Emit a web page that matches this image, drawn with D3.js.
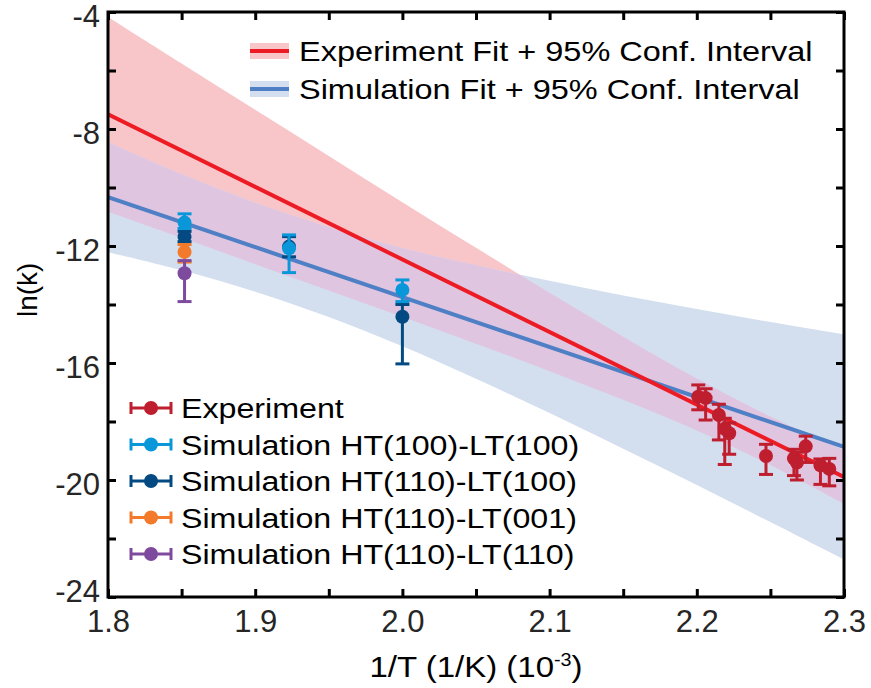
<!DOCTYPE html>
<html>
<head>
<meta charset="utf-8">
<script src="https://cdn.jsdelivr.net/npm/d3@7"></script>
<style>
  body { margin: 0; background: #fff; }
  text { font-family: "Liberation Sans", Arial, sans-serif; }
</style>
</head>
<body>
<div id="chart"></div>
<script>
// fit lines (ln k at the two ends of the x range)
const fitX = [1.8, 2.3];
const expFit = [-7.5, -19.9];
const simFit = [-10.33, -18.87];

// 95% confidence bands
const bandX = [1.80, 1.85, 1.90, 1.95, 2.00, 2.05, 2.10, 2.15, 2.20, 2.25, 2.30];
const expBandHi = [-4.17, -5.76, -7.34, -8.92, -10.50, -12.06, -13.60, -15.10, -16.53, -17.83, -18.98];
const expBandLo = [-10.83, -11.72, -12.62, -13.52, -14.42, -15.34, -16.28, -17.26, -18.31, -19.49, -20.82];
const simBandHi = [-8.45, -9.54, -10.52, -11.35, -12.07, -12.66, -13.19, -13.69, -14.15, -14.60, -15.02];
const simBandLo = [-12.21, -12.83, -13.56, -14.43, -15.43, -16.54, -17.71, -18.93, -20.17, -21.44, -22.72];

// experiment points
const expX  = [2.201, 2.206, 2.215, 2.219, 2.222, 2.247, 2.266, 2.268, 2.274, 2.284, 2.290];
const expY  = [-17.15, -17.20, -17.78, -18.25, -18.40, -19.18, -19.26, -19.40, -18.85, -19.50, -19.62];
const expLo = [-17.60, -17.95, -18.63, -19.47, -19.12, -19.81, -19.85, -20.00, -19.40, -20.15, -20.20];
const expHi = [-16.75, -16.88, -17.41, -17.89, -18.05, -18.78, -18.95, -19.05, -18.50, -19.28, -19.26];

// simulation points
const sim1X = [1.852, 1.923, 2.0];   // HT(100)-LT(100)
const sim1Y = [-11.20, -12.08, -13.50];
const sim1Lo = [-11.40, -12.91, -13.90];
const sim1Hi = [-10.90, -11.62, -13.16];

const sim2X = [1.852, 1.923, 2.0];   // HT(110)-LT(100)
const sim2Y = [-11.68, -12.02, -14.42];
const sim2Lo = [-11.85, -12.37, -16.03];
const sim2Hi = [-11.50, -11.68, -14.00];

const sim3X = [1.852];               // HT(110)-LT(001)
const sim3Y = [-12.20];
const sim3Lo = [-12.55];
const sim3Hi = [-11.95];

const sim4X = [1.852];               // HT(110)-LT(110)
const sim4Y = [-12.93];
const sim4Lo = [-13.90];
const sim4Hi = [-12.50];

const seriesNames = ["Experiment", "Simulation HT(100)-LT(100)", "Simulation HT(110)-LT(100)",
  "Simulation HT(110)-LT(001)", "Simulation HT(110)-LT(110)"];
const fitNames = ["Experiment Fit + 95% Conf. Interval", "Simulation Fit + 95% Conf. Interval"];

const xTicks = [1.8, 1.85, 1.9, 1.95, 2.0, 2.05, 2.1, 2.15, 2.2, 2.25, 2.3];
const xTickLabels = ["1.8", "", "1.9", "", "2.0", "", "2.1", "", "2.2", "", "2.3"];
const yTicks = [-24, -22, -20, -18, -16, -14, -12, -10, -8, -6, -4];
const yTickLabels = ["-24", "", "-20", "", "-16", "", "-12", "", "-8", "", "-4"];

const colors = {
  exp: "#BE1E2D", sim1: "#0A97D9", sim2: "#044A82", sim3: "#F27A2A", sim4: "#7E4A9E",
  redLine: "#ED1C24", blueLine: "#4F7FC4",
  pink: "#F8C6C9", blue: "#D3DFEF", overlap: "#E0C5E1"
};

const width = 871, height = 688;
const margin = { top: 12, right: 27, bottom: 91, left: 108 };

const svg = d3.select("#chart").append("svg")
  .attr("width", width).attr("height", height);

const x = d3.scaleLinear().domain([1.8, 2.3]).range([margin.left, width - margin.right]);
const y = d3.scaleLinear().domain([-24, -4]).range([height - margin.bottom, margin.top]);

const defs = svg.append("defs");
defs.append("clipPath").attr("id", "plotClip").append("rect")
  .attr("x", x(1.8)).attr("y", y(-4))
  .attr("width", x(2.3) - x(1.8)).attr("height", y(-24) - y(-4));

const expBand = bandX.map((v, i) => ({ x: v, lo: expBandLo[i], hi: expBandHi[i] }));
const simBand = bandX.map((v, i) => ({ x: v, lo: simBandLo[i], hi: simBandHi[i] }));

const area = d3.area()
  .x(d => x(d.x)).y0(d => y(d.lo)).y1(d => y(d.hi))
  .curve(d3.curveCatmullRom);

defs.append("clipPath").attr("id", "simClip").append("path").attr("d", area(simBand));

const plot = svg.append("g").attr("clip-path", "url(#plotClip)");

plot.append("path").attr("d", area(expBand)).attr("fill", colors.pink);
plot.append("path").attr("d", area(simBand)).attr("fill", colors.blue);
plot.append("g").attr("clip-path", "url(#simClip)")
  .append("path").attr("d", area(expBand)).attr("fill", colors.overlap);

const line = d3.line().x(d => x(d[0])).y(d => y(d[1]));
plot.append("path").attr("d", line(fitX.map((v, i) => [v, simFit[i]])))
  .attr("fill", "none").attr("stroke", colors.blueLine).attr("stroke-width", 4);
plot.append("path").attr("d", line(fitX.map((v, i) => [v, expFit[i]])))
  .attr("fill", "none").attr("stroke", colors.redLine).attr("stroke-width", 4);

// error bar points
function drawPoints(xs, ys, lo, hi, color) {
  const pts = xs.map((v, i) => ({ x: v, y: ys[i], lo: lo[i], hi: hi[i] }));
  const g = plot.append("g");
  const cap = 7;
  pts.forEach(d => {
    const px = x(d.x);
    g.append("line").attr("x1", px).attr("x2", px).attr("y1", y(d.lo)).attr("y2", y(d.hi))
      .attr("stroke", color).attr("stroke-width", 3);
    [d.lo, d.hi].forEach(v => {
      g.append("line").attr("x1", px - cap).attr("x2", px + cap).attr("y1", y(v)).attr("y2", y(v))
        .attr("stroke", color).attr("stroke-width", 3);
    });
    g.append("circle").attr("cx", px).attr("cy", y(d.y)).attr("r", 7).attr("fill", color);
  });
}

drawPoints(sim2X, sim2Y, sim2Lo, sim2Hi, colors.sim2);
drawPoints(sim1X, sim1Y, sim1Lo, sim1Hi, colors.sim1);
drawPoints(sim3X, sim3Y, sim3Lo, sim3Hi, colors.sim3);
drawPoints(sim4X, sim4Y, sim4Lo, sim4Hi, colors.sim4);
drawPoints(expX, expY, expLo, expHi, colors.exp);

// axes (inward ticks on all four sides)
function styleAxis(g) {
  g.select(".domain").remove();
  g.selectAll(".tick line").attr("stroke", "#000").attr("stroke-width", 3);
  g.selectAll(".tick text").attr("fill", "#262626").style("font-size", "31px");
}

svg.append("g").attr("transform", `translate(0,${y(-24)})`)
  .call(d3.axisBottom(x).tickValues(xTicks).tickSize(-8).tickPadding(13)
    .tickFormat((d, i) => xTickLabels[i]))
  .call(styleAxis);
svg.append("g").attr("transform", `translate(0,${y(-4)})`)
  .call(d3.axisTop(x).tickValues(xTicks).tickSize(-8).tickFormat(""))
  .call(styleAxis);
svg.append("g").attr("transform", `translate(${x(1.8)},0)`)
  .call(d3.axisLeft(y).tickValues(yTicks).tickSize(-8).tickPadding(8)
    .tickFormat((d, i) => yTickLabels[i]))
  .call(styleAxis)
  .selectAll(".tick text")
  .attr("dy", "0.46em")
  .attr("y", d => d === -24 ? -10 : 0);   // bottom label sits above the corner, as in the source
svg.append("g").attr("transform", `translate(${x(2.3)},0)`)
  .call(d3.axisRight(y).tickValues(yTicks).tickSize(-8).tickFormat(""))
  .call(styleAxis);

svg.append("rect")
  .attr("x", x(1.8)).attr("y", y(-4))
  .attr("width", x(2.3) - x(1.8)).attr("height", y(-24) - y(-4))
  .attr("fill", "none").attr("stroke", "#000").attr("stroke-width", 3);

// axis titles
const xTitle = svg.append("text")
  .attr("transform", `translate(${(x(1.8) + x(2.3)) / 2},677) scale(1.1,1)`)
  .attr("text-anchor", "middle").style("font-size", "30px").attr("fill", "#000");
xTitle.append("tspan").text("1/T (1/K) (10");
xTitle.append("tspan").attr("dy", "-11").style("font-size", "18px").text("-3");
xTitle.append("tspan").attr("dy", "11").text(")");

svg.append("text")
  .attr("transform", `translate(37,${y(-13.5)}) rotate(-90)`)
  .attr("text-anchor", "middle").style("font-size", "28px").attr("fill", "#000")
  .text("ln(k)");

// top legend: fit lines with bands
const fitLegend = svg.append("g");
[[colors.pink, colors.redLine], [colors.blue, colors.blueLine]].forEach((c, i) => {
  const cy = 51 + i * 38;
  fitLegend.append("rect").attr("x", 250).attr("y", cy - 8).attr("width", 39).attr("height", 16)
    .attr("fill", c[0]);
  fitLegend.append("line").attr("x1", 250).attr("x2", 289).attr("y1", cy).attr("y2", cy)
    .attr("stroke", c[1]).attr("stroke-width", 4);
  fitLegend.append("text")
    .attr("transform", `translate(299,${cy}) scale(1.16,1)`)
    .attr("dy", "0.36em").style("font-size", "28px").attr("fill", "#000")
    .text(fitNames[i]);
});

// bottom legend: data series
const pointLegend = svg.append("g");
[colors.exp, colors.sim1, colors.sim2, colors.sim3, colors.sim4].forEach((c, i) => {
  const cy = 408 + i * 36.5;
  const g = pointLegend.append("g");
  g.append("line").attr("x1", 131).attr("x2", 171).attr("y1", cy).attr("y2", cy)
    .attr("stroke", c).attr("stroke-width", 3);
  [131, 171].forEach(px => g.append("line").attr("x1", px).attr("x2", px)
    .attr("y1", cy - 6).attr("y2", cy + 6).attr("stroke", c).attr("stroke-width", 3));
  g.append("circle").attr("cx", 151).attr("cy", cy).attr("r", 7).attr("fill", c);
  g.append("text")
    .attr("transform", `translate(181,${cy}) scale(1.15,1)`)
    .attr("dy", "0.36em").style("font-size", "28px").attr("fill", "#000")
    .text(seriesNames[i]);
});
</script>
</body>
</html>
